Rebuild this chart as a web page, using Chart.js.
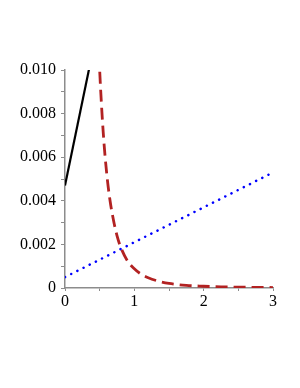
<!DOCTYPE html>
<html>
<head>
<meta charset="utf-8">
<script src="https://cdn.jsdelivr.net/npm/chart.js@4/dist/chart.umd.min.js"></script>
<style>
  html, body { margin: 0; padding: 0; background: #fff; }
  #wrap { width: 300px; height: 388px; }
</style>
</head>
<body>
<div id="wrap"><canvas id="plot" width="300" height="388"></canvas></div>
<script>
// black solid line (clipped at the top of the plot)
const blackX = [0, 0.5];
const blackY = [0.0047, 0.0124];

// red dashed decay curve
const redX = [0.47, 0.5, 0.55, 0.6, 0.65, 0.7, 0.75, 0.8, 0.9, 1.0, 1.1, 1.2, 1.35, 1.5, 1.75, 2.0, 2.25, 2.5, 2.75, 3.0];
const redY = [0.0124, 0.0100, 0.0072, 0.0053, 0.0040, 0.0031, 0.0024, 0.0019, 0.00125, 0.00088, 0.00063, 0.00047, 0.00031, 0.00021, 0.00012, 0.00008, 0.00005, 0.00004, 0.00003, 0.00002];

// blue dotted line
const blueX = [0, 3];
const blueY = [0.0005, 0.0053];

const xTicks = [0, 1, 2, 3];
const yTicks = [0, 0.002, 0.004, 0.006, 0.008, 0.010];

const pts = (xs, ys) => xs.map((x, i) => ({ x: x, y: ys[i] }));
const axisGrey = '#8c8c8c';
const font = { family: 'Liberation Serif', size: 16 };

new Chart(document.getElementById('plot').getContext('2d'), {
    type: 'scatter',
    data: {
        datasets: [{
            data: pts(blackX, blackY),
            showLine: true,
            borderColor: '#000000',
            borderWidth: 2.2,
            pointRadius: 0,
            tension: 0
        }, {
            data: pts(redX, redY),
            showLine: true,
            borderColor: '#b22222',
            borderWidth: 2.8,
            borderDash: [12, 6],
            pointRadius: 0,
            cubicInterpolationMode: 'monotone'
        }, {
            data: pts(blueX, blueY),
            showLine: true,
            borderColor: '#0000ff',
            borderWidth: 2.5,
            borderDash: [0.1, 6.8],
            borderCapStyle: 'round',
            pointRadius: 0,
            tension: 0
        }]
    },
    options: {
        responsive: false,
        animation: false,
        layout: { padding: { top: 70, right: 27, left: 0, bottom: 0 } },
        plugins: { legend: { display: false }, tooltip: { enabled: false } },
        scales: {
            x: {
                type: 'linear',
                min: 0,
                max: 3,
                afterFit: s => { s.height = 100; },
                afterBuildTicks: s => { s.ticks = [0, 0.5, 1, 1.5, 2, 2.5, 3].map(v => ({ value: v })); },
                border: { color: axisGrey, width: 1.5 },
                grid: { drawOnChartArea: false, color: axisGrey, tickLength: 3, tickWidth: 1 },
                ticks: {
                    color: '#000',
                    font: font,
                    padding: 1,
                    maxRotation: 0,
                    autoSkip: false,
                    callback: v => xTicks.includes(v) ? String(v) : ''
                }
            },
            y: {
                type: 'linear',
                min: 0,
                max: 0.010,
                afterFit: s => { s.width = 65; },
                afterBuildTicks: s => {
                    const t = [];
                    for (let i = 0; i <= 10; i++) t.push({ value: i / 1000 });
                    s.ticks = t;
                },
                border: { color: axisGrey, width: 1.5 },
                grid: { drawOnChartArea: false, color: axisGrey, tickLength: 4, tickWidth: 1 },
                ticks: {
                    color: '#000',
                    font: font,
                    padding: 5,
                    autoSkip: false,
                    callback: v => {
                        const hit = yTicks.find(t => Math.abs(t - v) < 1e-9);
                        if (hit === undefined) return '';
                        return hit === 0 ? '0' : hit.toFixed(3);
                    }
                }
            }
        }
    }
});
</script>
</body>
</html>
